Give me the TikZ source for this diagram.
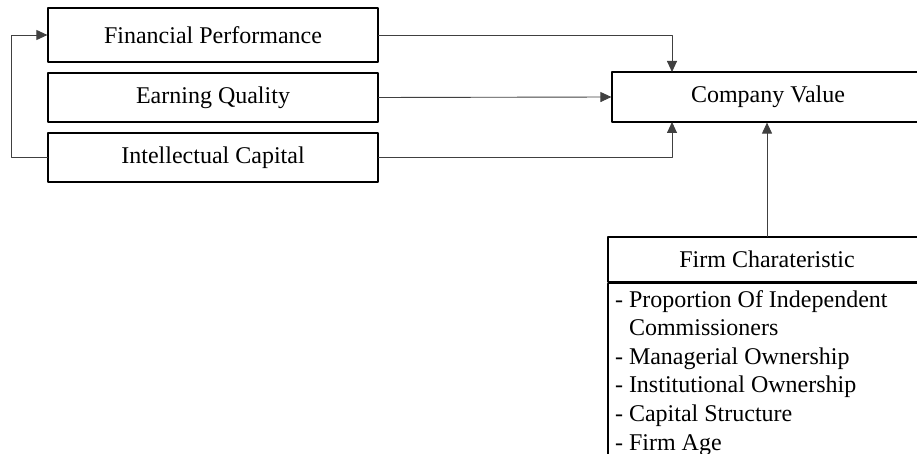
\documentclass[tikz,border=0pt]{standalone}
\usepackage{fontspec}
\setmainfont{Liberation Serif}
\usetikzlibrary{arrows.meta}

\begin{document}
\begin{tikzpicture}[line cap=round,line join=round,>={Triangle[length=11pt,width=10pt]},x=1pt,y=-1pt,
    box/.style={draw=black,line width=1.2pt,minimum width=330pt,minimum height=49pt,inner sep=0pt,font=\fontsize{24}{28.6}\selectfont},
    link/.style={->,color=black!75,line width=0.9pt}]
    \useasboundingbox (0,0) rectangle (917,454);
    \clip (0,0) rectangle (917,454);
    \node[box,minimum height=54pt] (fp) at (213,35) {Financial Performance};
    \node[box] (eq) at (213,97.5) {Earning Quality};
    \node[box] (ic) at (213,157.5) {Intellectual Capital};
    \node[box,minimum width=312pt,minimum height=50pt] (cv) at (768,97) {Company Value};
    \node[box,minimum width=318pt,minimum height=45pt] (fc) at (767,259.5) {Firm Charateristic};
    \node[box,text width=316pt,anchor=north west,align=flush left,inner xsep=1pt,inner ysep=7pt] (fclist) at (fc.south west)
        {- Proportion Of Independent\\
         \phantom{- }Commissioners\\
         - Managerial Ownership\\
         - Institutional Ownership\\
         - Capital Structure\\
         - Firm Age\strut};
    \coordinate (cvtop) at (672,72);
    \coordinate (cvbot) at (672,122);
    \draw[link] (fp.east) -| (cvtop);
    \draw[link] (eq.east) -- (cv.west);
    \draw[link] (ic.east) -| (cvbot);
    \draw[link] (fc.north) -- (fc.north |- cv.south);
    \draw[link] (ic.west) -- ++(-36,0) |- (fp.west);
\end{tikzpicture}
\end{document}
